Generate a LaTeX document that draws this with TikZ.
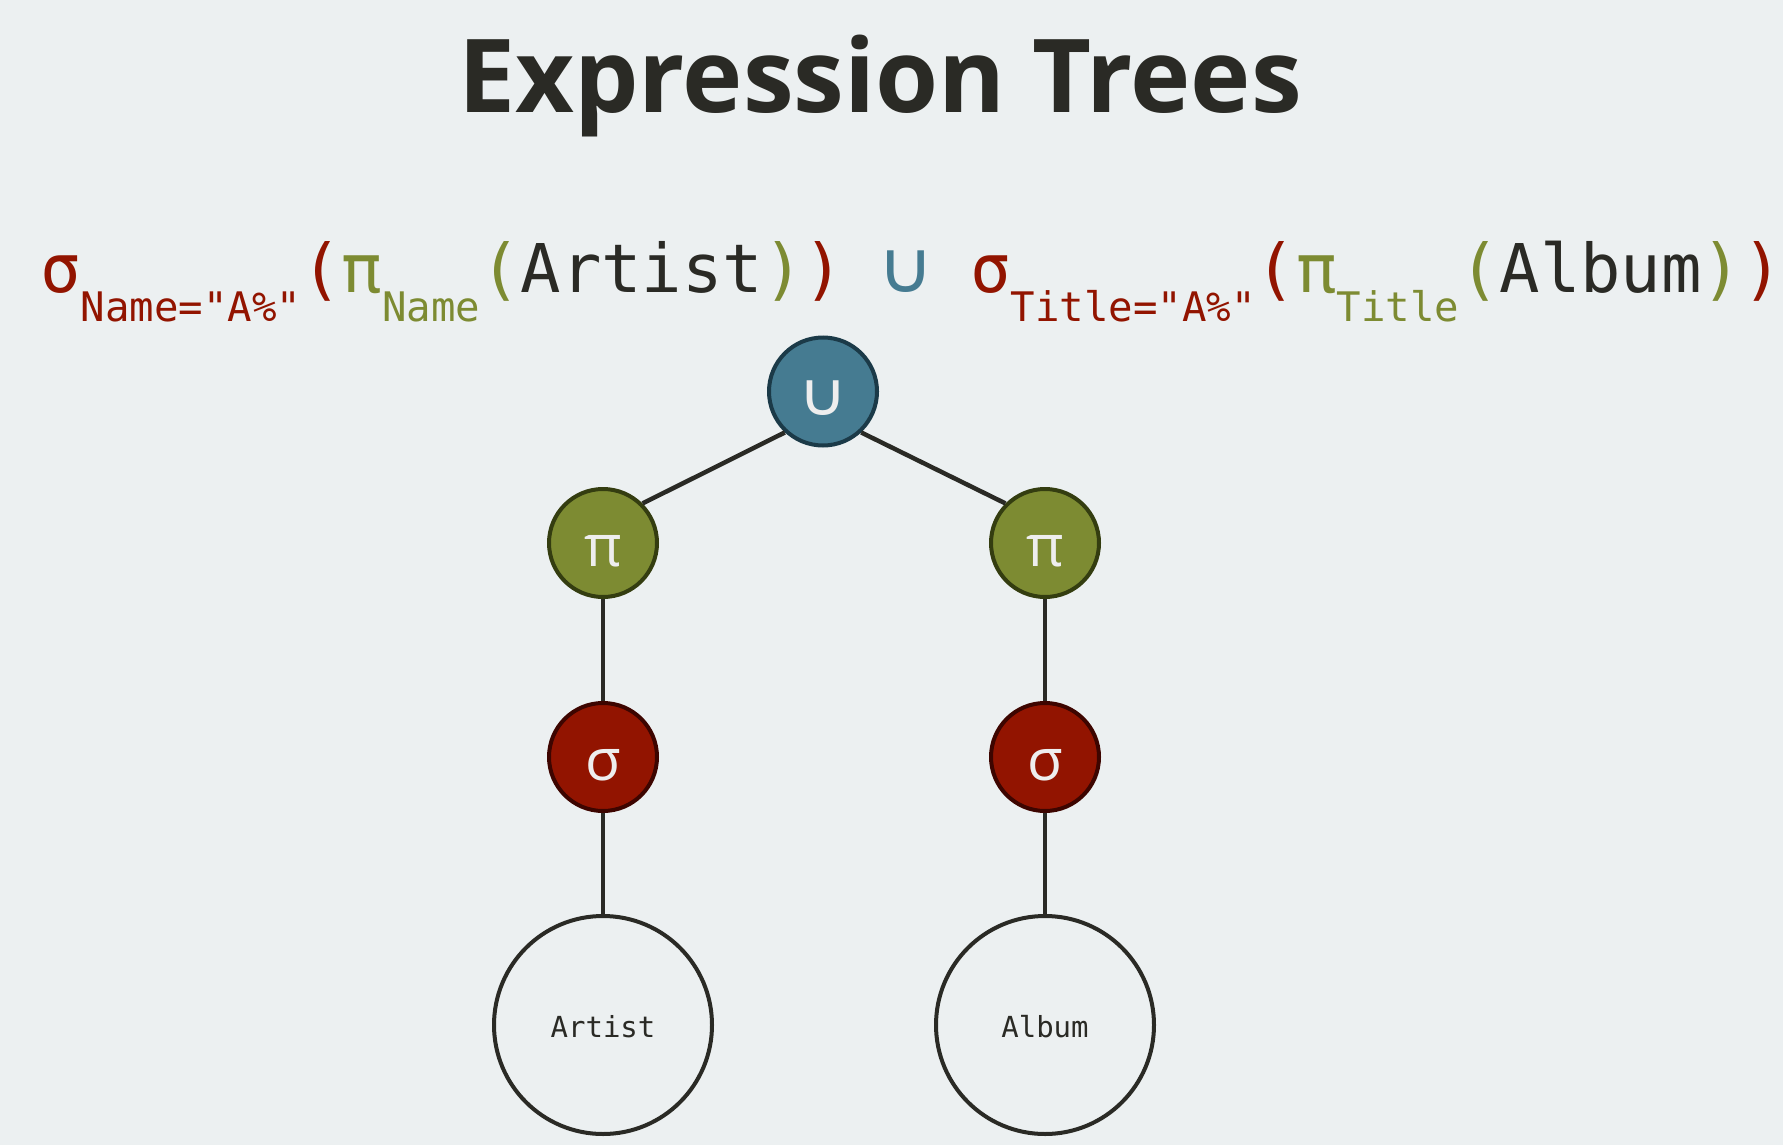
\documentclass[tikz,border=0pt]{standalone}
\usepackage{fontspec}
\setmainfont{Open Sans}
\newfontfamily\codefont{DejaVu Sans Mono}[Ligatures=TeXOff]
\newfontfamily\opsymfont{DejaVu Sans}

\definecolor{bgc}{HTML}{ECF0F1}
\definecolor{ink}{HTML}{2A2A25}
\definecolor{selred}{HTML}{921400}
\definecolor{selredline}{HTML}{3D0500}
\definecolor{projolive}{HTML}{7D8B32}
\definecolor{projoliveline}{HTML}{343D10}
\definecolor{uniteal}{HTML}{457B91}
\definecolor{unitealline}{HTML}{1B3A48}
\definecolor{optext}{HTML}{EEEEEE}

% subscript set in the smaller code size, lowered below the baseline
\newcommand\lowidx[1]{\raisebox{-29pt}{\fontsize{40.7}{41}\selectfont #1}}

\tikzset{
  opnode/.style={circle, inner sep=0pt, minimum size=108pt, line width=4pt,
    text=optext, text height=47pt, text depth=0pt,
    font=\fontsize{58}{58}\selectfont},
  leafnode/.style={circle, inner sep=0pt, minimum size=218pt, line width=4pt,
    draw=ink, fill=bgc, text=ink, text height=24pt, text depth=0pt,
    font=\codefont\fontsize{29}{29}\selectfont},
  treeline/.style={draw=ink, line width=4.5pt},
  formula/.style={inner sep=0pt, font=\codefont\fontsize{67.2}{68}\selectfont}
}

\begin{document}
\begin{tikzpicture}[x=1pt,y=-1pt]
  \fill[bgc] (0,0) rectangle (1783,1145);
  \useasboundingbox (0,0) rectangle (1783,1145);

  % heading
  \node[anchor=base, inner sep=0pt, text=ink, font=\bfseries\fontsize{102}{102}\selectfont]
    (title) at (880,113) {Expression Trees};

  % relational algebra expression
  \node[formula, anchor=base west] (lhs) at (40,292)
    {\textcolor{selred}{σ\lowidx{Name="A\%"}(}\textcolor{projolive}{π\lowidx{Name}(}\textcolor{ink}{Artist}\textcolor{projolive}{)}\textcolor{selred}{)}};
  \node[inner sep=0pt, anchor=base, text=uniteal, font=\opsymfont\fontsize{72}{72}\selectfont]
    (unionsym) at (906,292) {\scalebox{1.08}[1]{∪}};
  \node[formula, anchor=base west] (rhs) at (970,292)
    {\textcolor{selred}{σ\lowidx{Title="A\%"}(}\textcolor{projolive}{π\lowidx{Title}(}\textcolor{ink}{Album}\textcolor{projolive}{)}\textcolor{selred}{)}};

  % expression tree
  \node[opnode, fill=uniteal, draw=unitealline, font=\opsymfont\fontsize{60}{60}\selectfont]
    (u) at (823,391.5) {\scalebox{1.12}[1]{∪}};
  \node[opnode, fill=projolive, draw=projoliveline] (pl) at (603,543) {π};
  \node[opnode, fill=projolive, draw=projoliveline] (pr) at (1045,543) {π};
  \node[opnode, fill=selred, draw=selredline] (sl) at (603,757) {σ};
  \node[opnode, fill=selred, draw=selredline] (sr) at (1045,757) {σ};
  \node[leafnode] (al) at (603,1025) {Artist};
  \node[leafnode] (ar) at (1045,1025) {Album};

  \draw[treeline] (u.227) -- (pl.45);
  \draw[treeline] (u.313) -- (pr.135);
  \draw[treeline] (pl) -- (sl);
  \draw[treeline] (pr) -- (sr);
  \draw[treeline] (sl) -- (al);
  \draw[treeline] (sr) -- (ar);
\end{tikzpicture}
\end{document}
